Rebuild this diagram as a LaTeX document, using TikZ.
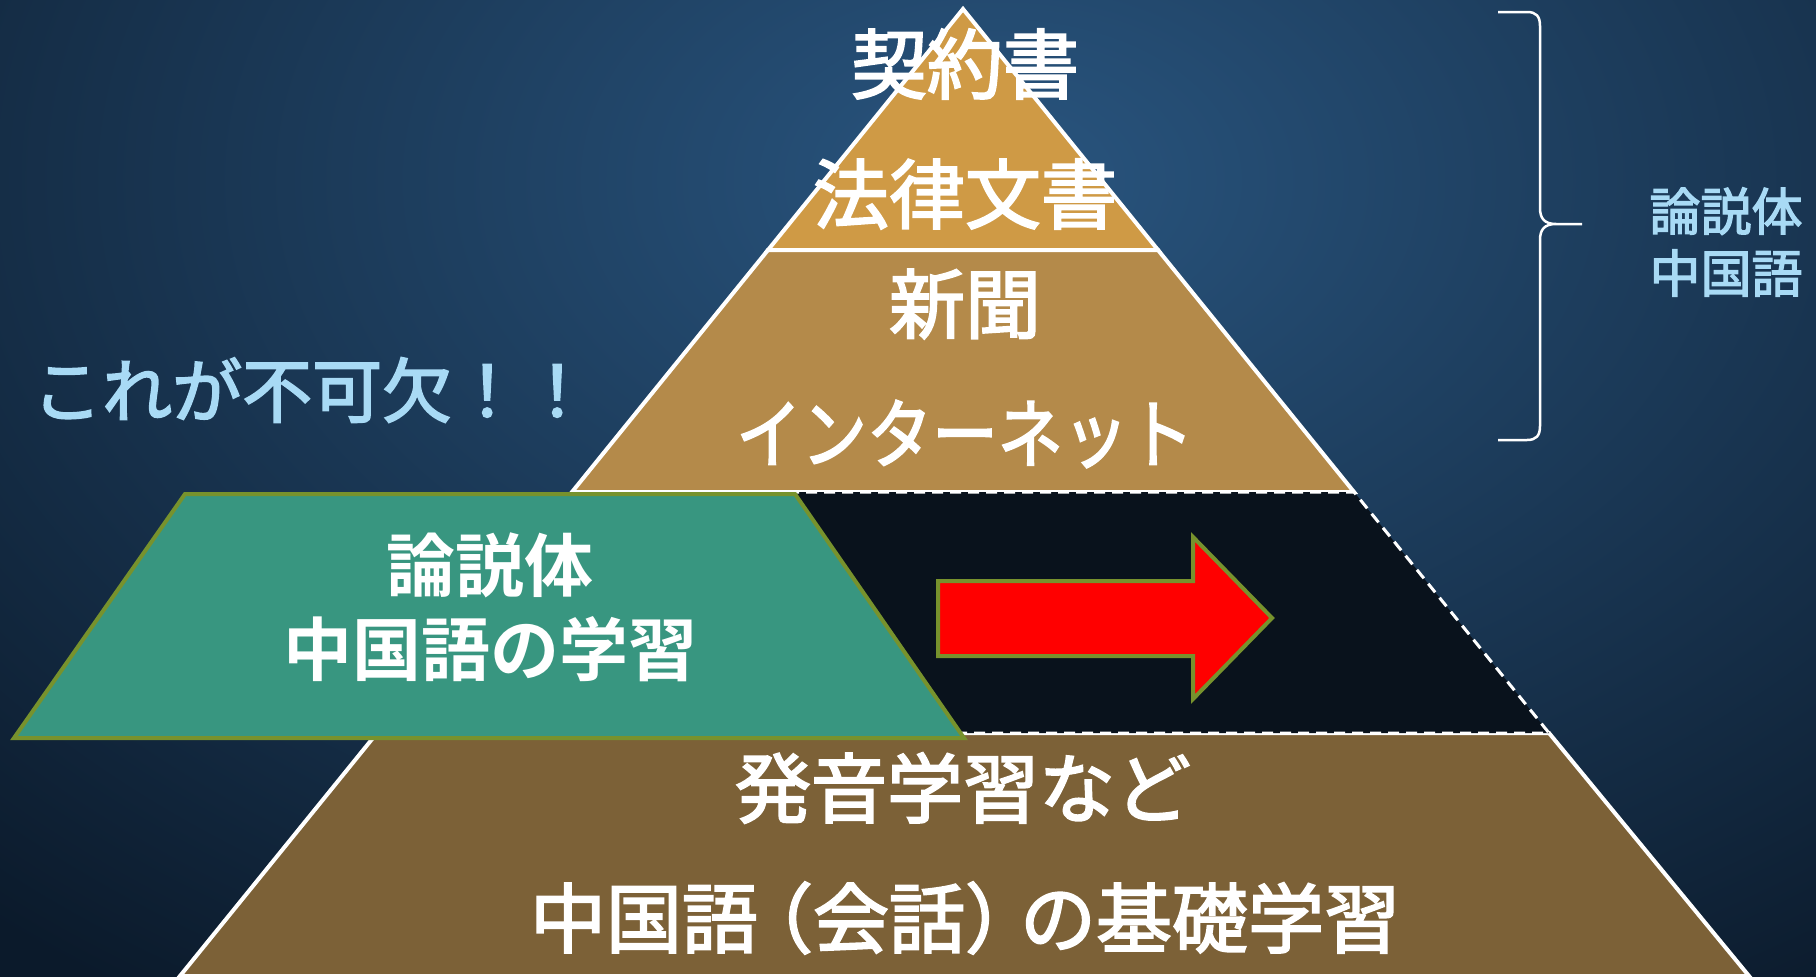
\documentclass[tikz,border=0pt]{standalone}
\usepackage{graphicx}
\usepackage{fontspec}
\newfontfamily\jp[FakeBold=2.5]{Noto Sans CJK JP}
\newfontfamily\jpb{Noto Sans CJK JP Bold}

\definecolor{bgtop}{HTML}{29557F}
\definecolor{bgdark}{HTML}{0B1A2B}
\definecolor{tiera}{HTML}{CF9A45}
\definecolor{tierb}{HTML}{B48A4A}
\definecolor{tierc}{HTML}{7C6137}
\definecolor{band}{HTML}{09121C}
\definecolor{teal}{HTML}{389680}
\definecolor{olive}{HTML}{77922D}
\definecolor{sky}{HTML}{A8DAF5}

\begin{document}
\begin{tikzpicture}[x=1pt,y=-1pt,
    tier/.style={draw=white,line width=4pt},
    tiertxt/.style={text=white,inner sep=0pt,font=\jp\fontsize{76}{80}\selectfont},
    greentxt/.style={text=white,inner sep=0pt,align=center,font=\jpb\fontsize{69}{84}\selectfont},
    skytxt/.style={text=sky,inner sep=0pt,font=\jp\fontsize{70}{74}\selectfont}]
  \useasboundingbox (0,0) rectangle (1816,977);
  \fill[bgdark] (0,0) rectangle (1816,977);
  \begin{scope}
    \clip (0,0) rectangle (1816,977);
    \shade[inner color=bgtop,outer color=bgdark] (1000,180) ellipse (1500 and 1000);
  \end{scope}

  \coordinate (apex) at (963,9);
  \coordinate (a-l) at (768,250);  \coordinate (a-r) at (1158,250);
  \coordinate (b-l) at (572,492);  \coordinate (b-r) at (1354,492);
  \coordinate (c-l) at (377,733);  \coordinate (c-r) at (1549,733);
  \coordinate (d-l) at (180,976);  \coordinate (d-r) at (1749,976);

  \draw[tier,fill=tiera] (apex) -- (a-r) -- (a-l) -- cycle;
  \draw[tier,fill=tierb] (a-l) -- (a-r) -- (b-r) -- (b-l) -- cycle;
  \draw[tier,fill=tierc] (c-l) -- (c-r) -- (d-r) -- (d-l) -- cycle;
  \draw[fill=band,draw=white,line width=3pt,dash pattern=on 11pt off 7pt]
    (b-l) -- (b-r) -- (c-r) -- (c-l) -- cycle;

  \draw[fill=teal,draw=olive,line width=4pt]
    (185,494) -- (795,494) -- (964,738) -- (14,738) -- cycle;
  \draw[fill=red,draw=olive,line width=4pt]
    (938,581) -- (1193,581) -- (1193,537) -- (1272,618)
    -- (1193,699) -- (1193,656) -- (938,656) -- cycle;

  \node[tiertxt] (contract) at (965,64) {契約書};
  \node[tiertxt] (law) at (965,194) {法律文書};
  \node[tiertxt] (news) at (965,304) {新聞};
  \node[tiertxt] (net) at (965,434) {\scalebox{0.86}[1]{インターネット}};
  \node[tiertxt] (phon) at (963,788) {発音学習など};
  \node[tiertxt] (basic) at (965,918) {中国語\kern-21pt（会話）\kern-21ptの基礎学習};
  \node[greentxt] (essay) at (490,607) {論説体\\中国語の学習};
  \node[skytxt,anchor=west] (need) at (32,390) {これが不可欠！！};

  \draw[white,line width=2.5pt]
    (1498,12) -- (1527,12) .. controls (1536,12) and (1540,16) .. (1540,26)
    -- (1540,208) .. controls (1540,218) and (1544,224) .. (1556,224) -- (1582,224)
    (1556,224) .. controls (1544,224) and (1540,230) .. (1540,240)
    -- (1540,426) .. controls (1540,436) and (1536,440) .. (1527,440) -- (1498,440);
  \node[skytxt,align=center,font=\jp\fontsize{51}{62}\selectfont] (kind) at (1726,242) {論説体\\中国語};
\end{tikzpicture}
\end{document}
